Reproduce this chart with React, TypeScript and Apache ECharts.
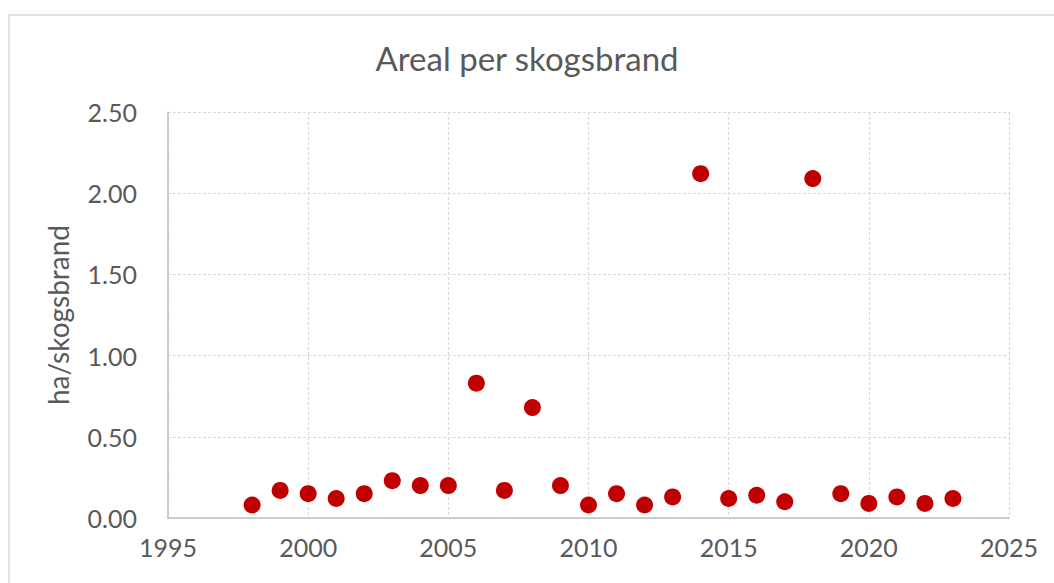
import React, { useEffect, useRef } from "react";
import * as echarts from "echarts";

const years = [1998, 1999, 2000, 2001, 2002, 2003, 2004, 2005, 2006, 2007, 2008, 2009, 2010, 2011, 2012, 2013, 2014, 2015, 2016, 2017, 2018, 2019, 2020, 2021, 2022, 2023];
const values = [0.08, 0.17, 0.15, 0.12, 0.15, 0.23, 0.2, 0.2, 0.83, 0.17, 0.68, 0.2, 0.08, 0.15, 0.08, 0.13, 2.12, 0.12, 0.14, 0.1, 2.09, 0.15, 0.09, 0.13, 0.09, 0.12];
const titleText = "Areal per skogsbrand";
const yAxisName = "ha/skogsbrand";

export default function App() {
  const ref = useRef<HTMLDivElement>(null);
  useEffect(() => {
    if (!ref.current) return;
    const chart = echarts.init(ref.current, null, { renderer: "svg" });
    const font = "Lato, 'Open Sans', sans-serif";
    const textColor = "#595959";
    chart.setOption({
      animation: false,
      backgroundColor: "#ffffff",
      title: {
        text: titleText,
        left: "center",
        top: 36,
        textStyle: { fontFamily: font, fontSize: 33, fontWeight: "normal", color: textColor },
      },
      graphic: [
        {
          type: "rect",
          shape: { x: 9, y: 15, width: 1080, height: 620 },
          style: { fill: "none", stroke: "#d9d9d9", lineWidth: 1.5 },
          silent: true,
          z: -1,
        },
      ],
      grid: { left: 168, right: 45, top: 112, bottom: 65, containLabel: false },
      xAxis: {
        type: "value",
        min: 1995,
        max: 2025,
        interval: 5,
        axisLine: { show: true, onZero: false, lineStyle: { color: "#bfbfbf", width: 1.5 } },
        axisTick: { show: false },
        axisLabel: {
          fontFamily: font,
          fontSize: 25,
          color: textColor,
          margin: 16,
          formatter: (v: number) => String(v),
        },
        splitLine: { show: true, lineStyle: { color: "#d9d9d9", type: [3, 2], width: 1.2 } },
      },
      yAxis: {
        type: "value",
        min: 0,
        max: 2.5,
        interval: 0.5,
        name: yAxisName,
        nameLocation: "middle",
        nameGap: 96,
        nameTextStyle: { fontFamily: font, fontSize: 28, color: textColor },
        axisLine: { show: true, lineStyle: { color: "#bfbfbf", width: 1.5 } },
        axisTick: { show: false },
        axisLabel: {
          fontFamily: font,
          fontSize: 25,
          color: textColor,
          margin: 31,
          formatter: (v: number) => v.toFixed(2),
        },
        splitLine: { show: true, lineStyle: { color: "#d9d9d9", type: [3, 2], width: 1.2 } },
      },
      series: [
        {
          type: "scatter",
          data: years.map((y, i) => [y, values[i]]),
          symbol: "circle",
          symbolSize: 17,
          itemStyle: { color: "#C00000", opacity: 1 },
        },
      ],
    });
    return () => chart.dispose();
  }, []);
  return (
    <div
      ref={ref}
      style={{ position: "fixed", left: 0, top: 0, width: 1054, height: 583, background: "#fff" }}
    />
  );
}
